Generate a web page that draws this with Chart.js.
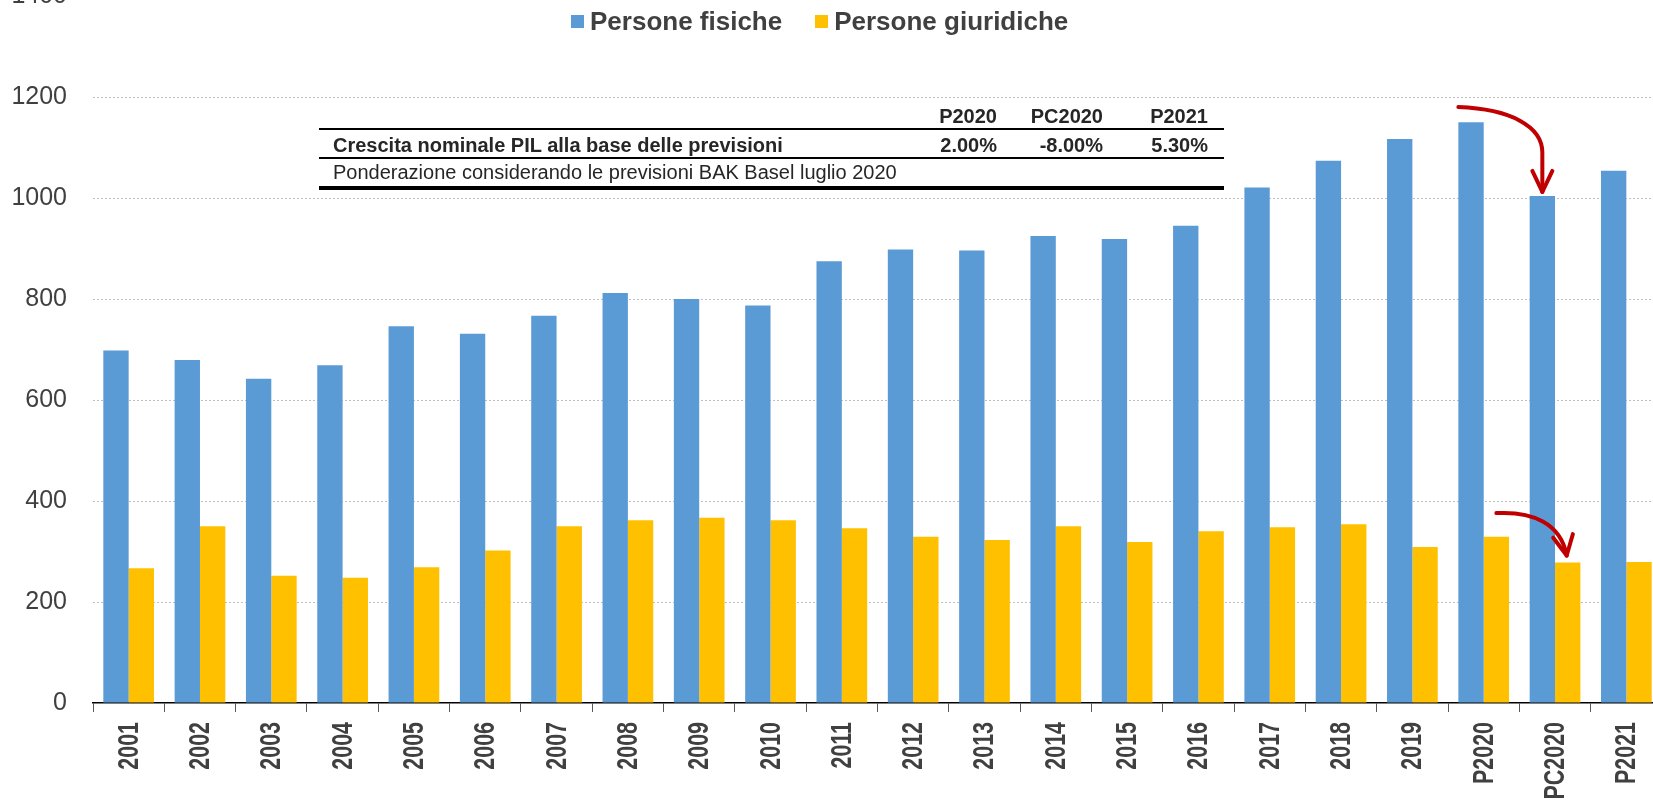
<!DOCTYPE html>
<html>
<head>
<meta charset="utf-8">
<script src="https://cdn.jsdelivr.net/npm/chart.js@4.4.1/dist/chart.umd.min.js"></script>
<style>
    html, body { margin: 0; padding: 0; background: #fff; overflow: hidden; }
    body { width: 1653px; height: 803px; position: relative; font-family: "Liberation Sans", Arial, sans-serif; }
    #wrap { position: absolute; left: 0; top: -45px; width: 1680px; height: 848px; }
    .legend { position: absolute; left: 571px; top: 6px; display: flex; align-items: center; color: #404040; font-weight: bold; font-size: 26px; white-space: nowrap; }
    .legend .box { width: 13px; height: 13px; margin-right: 6px; }
    .legend .item { display: flex; align-items: center; }
    .legend .item + .item { margin-left: 33px; }
    .tbl { position: absolute; color: #262626; font-size: 20px; line-height: 24px; white-space: nowrap; }
    .rule { position: absolute; left: 319px; width: 905px; background: #000; }
</style>
</head>
<body>
<div id="wrap"><canvas id="taxChart"></canvas></div>
<div class="legend" id="legend"></div>
<div id="table"></div>
<script>
// categories and values
const labels = ["2001", "2002", "2003", "2004", "2005", "2006", "2007", "2008", "2009", "2010",
    "2011", "2012", "2013", "2014", "2015", "2016", "2017", "2018", "2019", "P2020", "PC2020", "P2021"];
const personeFisiche = [698, 679, 642, 669, 746, 731, 767, 812, 800, 787,
    875, 898, 896, 925, 919, 945, 1021, 1074, 1117, 1150, 1004, 1054];
const personeGiuridiche = [267, 350, 252, 248, 269, 302, 350, 362, 367, 362,
    346, 329, 323, 350, 319, 340, 348, 354, 309, 329, 278, 279];
const yTicks = [0, 200, 400, 600, 800, 1000, 1200, 1400];

// small table drawn over the chart
const tableHeaders = ["P2020", "PC2020", "P2021"];
const growthRow = ["2.00%", "-8.00%", "5.30%"];
const growthLabel = "Crescita nominale PIL alla base delle previsioni";
const noteLabel = "Ponderazione considerando le previsioni BAK Basel luglio 2020";

const BLUE = "#5B9BD5";
const YELLOW = "#FFC000";
const RED = "#C00000";

document.addEventListener("DOMContentLoaded", function () {
    // legend
    const legend = document.getElementById("legend");
    [["Persone fisiche", BLUE], ["Persone giuridiche", YELLOW]].forEach(([name, col]) => {
        const item = document.createElement("div");
        item.className = "item";
        item.innerHTML = `<div class="box" style="background:${col}"></div><span>${name}</span>`;
        legend.appendChild(item);
    });

    // table
    const colRight = [997, 1103, 1208];
    let html = "";
    tableHeaders.forEach((h, i) => {
        html += `<div class="tbl" style="font-weight:bold;top:104px;right:${1653 - colRight[i]}px">${h}</div>`;
        html += `<div class="tbl" style="font-weight:bold;top:133px;right:${1653 - colRight[i]}px">${growthRow[i]}</div>`;
    });
    html += `<div class="tbl" style="font-weight:bold;top:133px;left:333px">${growthLabel}</div>`;
    html += `<div class="tbl" style="top:160px;left:333px">${noteLabel}</div>`;
    html += `<div class="rule" style="top:128px;height:2px"></div>`;
    html += `<div class="rule" style="top:157px;height:2px"></div>`;
    html += `<div class="rule" style="top:186px;height:4px"></div>`;
    document.getElementById("table").innerHTML = html;

    // condensed, rotated category labels (the narrow font is not installed)
    const narrowLabels = {
        id: "narrowLabels",
        afterDraw(chart) {
            const ctx = chart.ctx;
            const x = chart.scales.x;
            const top = chart.chartArea.bottom + 19;
            ctx.save();
            ctx.fillStyle = "#404040";
            ctx.font = "bold 29px 'Liberation Sans', Arial, sans-serif";
            ctx.textAlign = "right";
            ctx.textBaseline = "middle";
            labels.forEach((lab, i) => {
                ctx.save();
                ctx.translate(x.getPixelForValue(i) + 1, top);
                ctx.rotate(-Math.PI / 2);
                ctx.scale(0.74, 1);
                ctx.fillText(lab, 0, 0);
                ctx.restore();
            });
            ctx.restore();
        },
    };

    // red arrows anchored on the bars
    const arrowPlugin = {
        id: "arrows",
        afterDatasetsDraw(chart) {
            const ctx = chart.ctx;
            const y = chart.scales.y;
            const blue = chart.getDatasetMeta(0).data;
            const yel = chart.getDatasetMeta(1).data;
            const iFrom = labels.indexOf("P2020");
            const iTo = labels.indexOf("PC2020");

            ctx.save();
            ctx.strokeStyle = RED;
            ctx.lineWidth = 4;
            ctx.lineCap = "round";
            ctx.lineJoin = "round";

            // arrow 1: blue P2020 -> blue PC2020
            const b0 = blue[iFrom], b1 = blue[iTo];
            const x0 = b0.x - b0.width / 2, y0 = y.getPixelForValue(1180);
            const x1 = b1.x, yBend = y.getPixelForValue(1090), yTip = y.getPixelForValue(1012);
            ctx.beginPath();
            ctx.moveTo(x0, y0);
            ctx.bezierCurveTo(x0 + 52, y0 + 2, x1, y0 + 19, x1, yBend);
            ctx.lineTo(x1, yTip);
            ctx.stroke();
            ctx.beginPath();
            ctx.moveTo(x1 - 10, yTip - 21);
            ctx.lineTo(x1, yTip);
            ctx.lineTo(x1 + 10, yTip - 21);
            ctx.stroke();

            // arrow 2: yellow P2020 -> yellow PC2020
            const g0 = yel[iFrom], g1 = yel[iTo];
            const sx = g0.x, sy = y.getPixelForValue(376);
            const ex = g1.x - 1, ey = y.getPixelForValue(292);
            const c1x = sx + 36, c1y = sy - 2, c2x = ex - 6, c2y = sy + 10;
            ctx.beginPath();
            ctx.moveTo(sx, sy);
            ctx.bezierCurveTo(c1x, c1y, c2x, c2y, ex, ey);
            ctx.stroke();
            const dx = ex - c2x, dy = ey - c2y, len = Math.hypot(dx, dy);
            const ux = dx / len, uy = dy / len, L = 20, W = 10;
            ctx.beginPath();
            ctx.moveTo(ex - ux * L - uy * W, ey - uy * L + ux * W);
            ctx.lineTo(ex, ey);
            ctx.lineTo(ex - ux * L + uy * W, ey - uy * L - ux * W);
            ctx.stroke();
            ctx.restore();
        },
    };

    Chart.defaults.font.family = "'Liberation Sans', Arial, sans-serif";
    Chart.defaults.color = "#404040";

    const ctx = document.getElementById("taxChart").getContext("2d");
    new Chart(ctx, {
        type: "bar",
        data: {
            labels: labels,
            datasets: [
                { label: "Persone fisiche", data: personeFisiche, backgroundColor: BLUE },
                { label: "Persone giuridiche", data: personeGiuridiche, backgroundColor: YELLOW },
            ],
        },
        options: {
            responsive: true,
            maintainAspectRatio: false,
            animation: false,
            categoryPercentage: 0.711,
            barPercentage: 1,
            layout: { padding: { top: 25, right: 18, left: 0, bottom: 0 } },
            plugins: {
                legend: { display: false },
                tooltip: { enabled: false },
            },
            scales: {
                x: {
                    afterFit: (scale) => { scale.height = 100; },
                    grid: {
                        drawOnChartArea: false,
                        drawTicks: true,
                        tickLength: 9,
                        tickColor: "#595959",
                        color: "#595959",
                    },
                    border: { display: true, color: "#000", width: 1.5 },
                    ticks: {
                        maxRotation: 90,
                        minRotation: 90,
                        padding: 10,
                        color: "rgba(0,0,0,0)", // drawn condensed by narrowLabels
                        font: { size: 22, weight: "bold" },
                        autoSkip: false,
                    },
                },
                y: {
                    min: 0,
                    max: 1400,
                    afterFit: (scale) => { scale.width = 93; },
                    afterBuildTicks: (scale) => { scale.ticks = yTicks.map((v) => ({ value: v })); },
                    grid: {
                        drawTicks: false,
                        color: (c) => (c.tick && c.tick.value === 0 ? "rgba(0,0,0,0)" : "#BFBFBF"),
                        lineWidth: 1,
                    },
                    border: { display: false, dash: [2, 2] },
                    ticks: {
                        padding: 26,
                        color: "#404040",
                        font: { size: 25 },
                        callback: (v) => String(v),
                    },
                },
            },
        },
        plugins: [arrowPlugin, narrowLabels],
    });
});
</script>
</body>
</html>
